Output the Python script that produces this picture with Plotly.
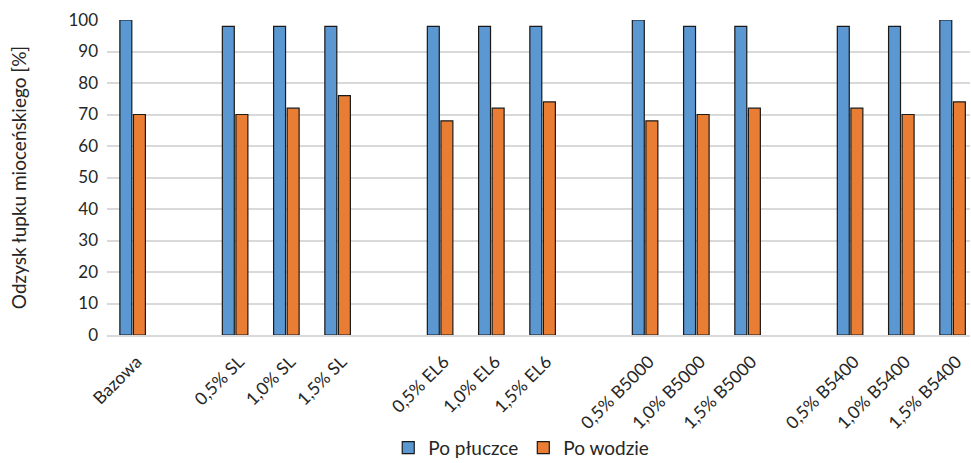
import plotly.graph_objects as go

# Mixture labels; blank entries separate the additive families
categories = [
    "Bazowa", " ",
    "0,5% SL", "1,0% SL", "1,5% SL", "  ",
    "0,5% EL6", "1,0% EL6", "1,5% EL6", "   ",
    "0,5% B5000", "1,0% B5000", "1,5% B5000", "    ",
    "0,5% B5400", "1,0% B5400", "1,5% B5400",
]
po_pluczce = [100, None, 98, 98, 98, None, 98, 98, 98, None, 100, 98, 98, None, 98, 98, 100]
po_wodzie = [70, None, 70, 72, 76, None, 68, 72, 74, None, 68, 70, 72, None, 72, 70, 74]
y_ticks = [0, 10, 20, 30, 40, 50, 60, 70, 80, 90, 100]

font_family = "Lato, 'Open Sans', sans-serif"
line = dict(color="#1a1a1a", width=1.2)

fig = go.Figure()
fig.add_trace(go.Bar(x=categories, y=po_pluczce, name="Po płuczce",
                     marker=dict(color="#5B97D1", line=line)))
fig.add_trace(go.Bar(x=categories, y=po_wodzie, name="Po wodzie",
                     marker=dict(color="#E97D34", line=line)))

fig.update_layout(
    width=971, height=463,
    margin=dict(l=107, r=1, t=20, b=128, autoexpand=False),
    paper_bgcolor="white", plot_bgcolor="white",
    barmode="group", bargap=0.47, bargroupgap=0.12,
    font=dict(family=font_family, color="#262626"),
    showlegend=True,
    legend=dict(orientation="h", xref="paper", x=0.48, xanchor="center",
                yref="paper", y=-0.358, yanchor="middle",
                font=dict(size=19, color="#262626"), itemwidth=30,
                traceorder="normal"),
)
fig.update_xaxes(
    type="category", range=[-0.5, 16.34], automargin=False,
    tickangle=-45, tickfont=dict(size=17.5, color="#262626"),
    showgrid=False, showline=True, linecolor="#D9D9D9", linewidth=1.5,
    ticks="", ticklabelstandoff=8, ticklabelshift=4,
)
fig.update_yaxes(
    range=[0, 100], tickvals=y_ticks, automargin=False,
    tickfont=dict(size=17, color="#262626"),
    showgrid=True, gridcolor="#D9D9D9", gridwidth=1.5,
    zeroline=False, showline=False, ticks="", ticklabelstandoff=8,
    title=dict(text="Odzysk łupku mioceńskiego [%]",
               font=dict(size=19, color="#262626"), standoff=36),
)

fig.write_html("out.html")
